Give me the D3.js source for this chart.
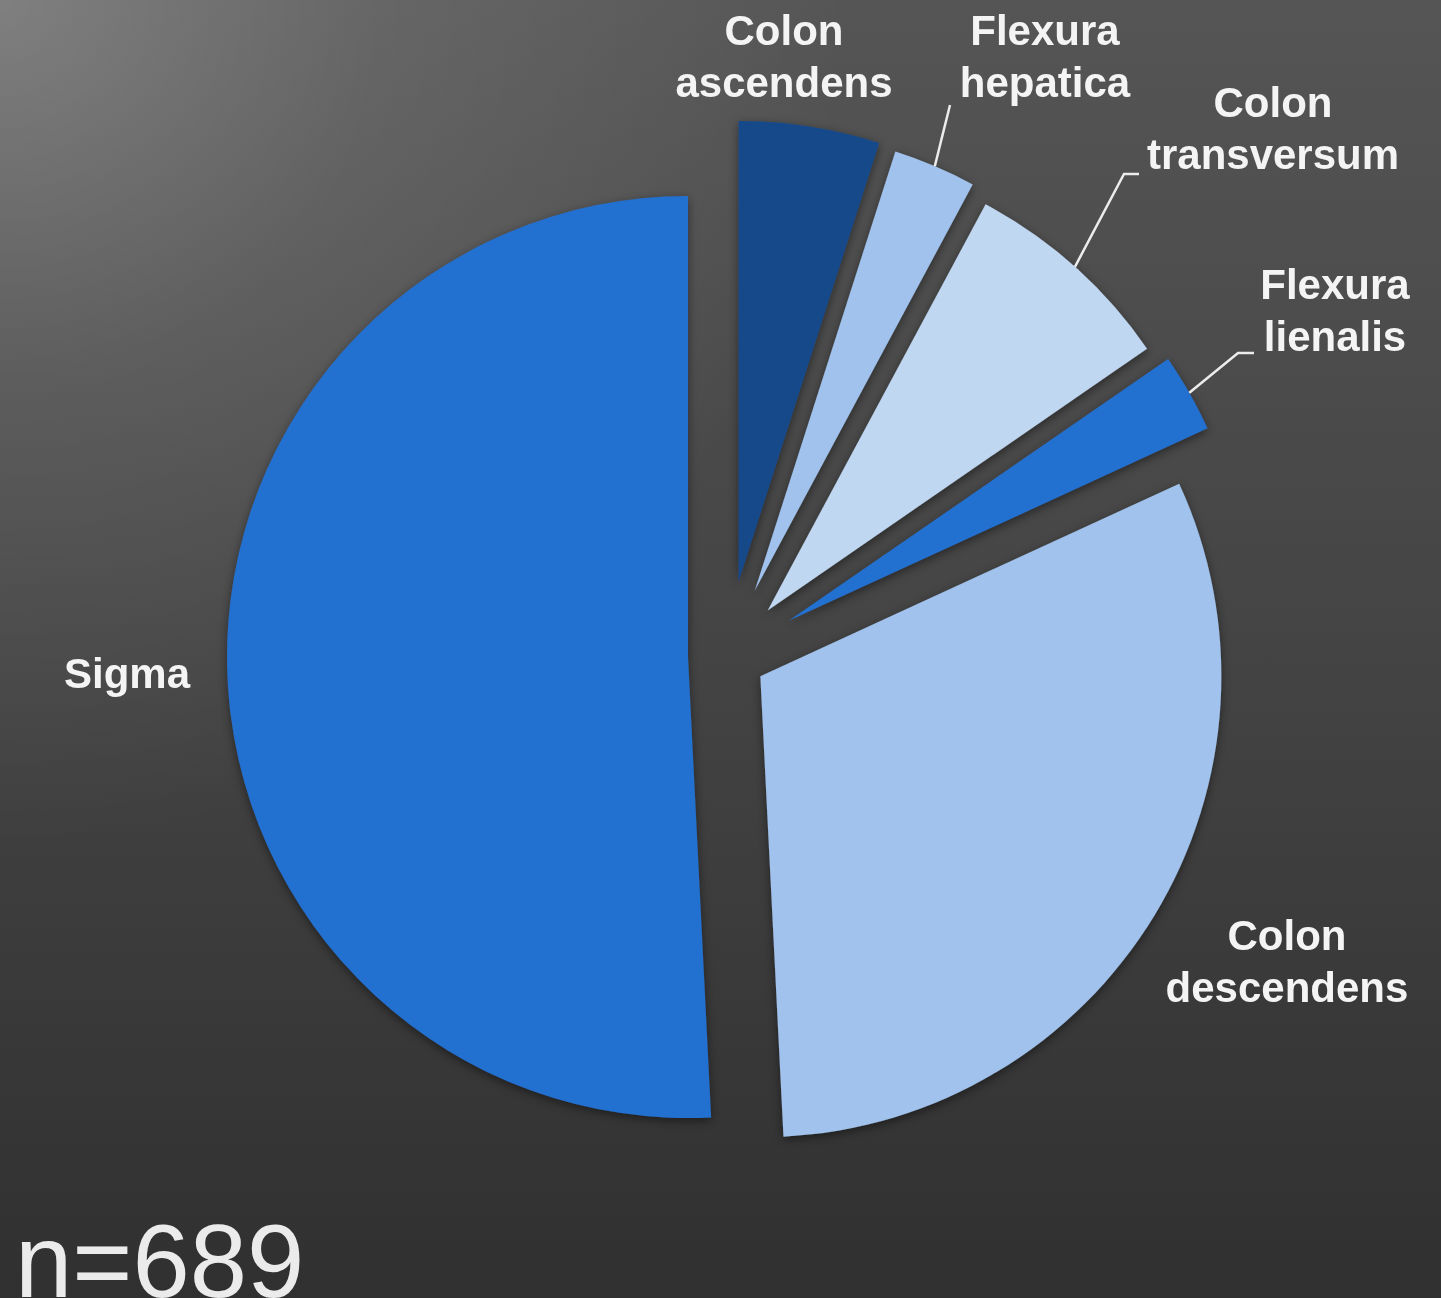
<!DOCTYPE html>
<html>
<head>
<meta charset="utf-8">
<script src="https://cdn.jsdelivr.net/npm/d3@7"></script>
<style>
  html, body { margin: 0; padding: 0; background: #333; }
  svg { display: block; }
</style>
</head>
<body>
<svg id="chart" width="1441" height="1298"></svg>
<script>
// Tumour location along the colon (counts, n = 689)
const categories = ["Colon ascendens", "Flexura hepatica", "Colon transversum",
                    "Flexura lienalis", "Colon descendens", "Sigma"];
const counts = [34, 20, 52, 19, 214, 350];
const totalLabel = "n=689";

// Styling / layout (kept apart from the data)
const colors = ["#194a8a", "#a0c2ec", "#c0d7f2", "#2470d0", "#a0c2ec", "#2470d0"];
const explode = [75, 71, 61, 71, 39, 39];           // offset of each wedge along its bisector
const labelAnchor = [[784, 45], [1045, 45], [1273, 117], [1335, 299], [1287, 950], [127, 688]];
// leader elbows (null = no leader line)
const leaderPts = [null, [[950, 105]], [[1124, 174], [1139, 174]], [[1238, 353], [1254, 353]], null, null];

const W = 1441, H = 1298;
const cx = 727, cy = 656, R = 461;
const lineH = 52;

const svg = d3.select("#chart");
const defs = svg.append("defs");

// background: vertical fade plus a soft highlight in the upper-left corner
const lin = defs.append("linearGradient").attr("id", "bgLin")
  .attr("x1", 0).attr("y1", 0).attr("x2", 0).attr("y2", 1);
lin.append("stop").attr("offset", 0).attr("stop-color", "#555555");
lin.append("stop").attr("offset", 0.5).attr("stop-color", "#444444");
lin.append("stop").attr("offset", 1).attr("stop-color", "#303030");

const rad = defs.append("radialGradient").attr("id", "bgGlow")
  .attr("gradientUnits", "userSpaceOnUse")
  .attr("cx", 0).attr("cy", 0).attr("r", 850);
rad.append("stop").attr("offset", 0).attr("stop-color", "#fff").attr("stop-opacity", 0.25);
rad.append("stop").attr("offset", 0.45).attr("stop-color", "#fff").attr("stop-opacity", 0.1);
rad.append("stop").attr("offset", 1).attr("stop-color", "#fff").attr("stop-opacity", 0);

const shadow = defs.append("filter").attr("id", "shadow")
  .attr("x", "-20%").attr("y", "-20%").attr("width", "140%").attr("height", "140%");
shadow.append("feDropShadow").attr("dx", 0).attr("dy", 3)
  .attr("stdDeviation", 5).attr("flood-color", "#000").attr("flood-opacity", 0.45);

svg.append("rect").attr("width", W).attr("height", H).attr("fill", "url(#bgLin)");
svg.append("rect").attr("width", W).attr("height", H).attr("fill", "url(#bgGlow)");

// pie starting at 12 o'clock, clockwise, original order
const pie = d3.pie().sort(null).value(d => d)(counts);
const arc = d3.arc().innerRadius(0).outerRadius(R);

const apex = (d, i) => {
  const mid = (d.startAngle + d.endAngle) / 2;
  return [cx + explode[i] * Math.sin(mid), cy - explode[i] * Math.cos(mid)];
};

svg.append("g").attr("filter", "url(#shadow)")
  .selectAll("path").data(pie).join("path")
  .attr("transform", (d, i) => `translate(${apex(d, i)})`)
  .attr("d", arc)
  .attr("fill", (d, i) => colors[i]);

// leader lines from the outer arc midpoint to the label
const line = d3.line();
svg.append("g").selectAll("path")
  .data(pie.map((d, i) => ({ d, i })).filter(o => leaderPts[o.i]))
  .join("path")
  .attr("d", o => {
    const [ax, ay] = apex(o.d, o.i);
    const mid = (o.d.startAngle + o.d.endAngle) / 2;
    const start = [ax + R * Math.sin(mid), ay - R * Math.cos(mid)];
    return line([start, ...leaderPts[o.i]]);
  })
  .attr("fill", "none")
  .attr("stroke", "#ececec")
  .attr("stroke-width", 2.5);

// category labels
const labels = svg.append("g")
  .attr("font-family", "'Liberation Sans', Arial, Helvetica, sans-serif")
  .attr("font-weight", "bold")
  .attr("font-size", 42)
  .attr("fill", "#f4f4f4")
  .attr("text-anchor", "middle");

labels.selectAll("text").data(categories).join("text")
  .attr("x", (d, i) => labelAnchor[i][0])
  .attr("y", (d, i) => labelAnchor[i][1])
  .each(function (d, i) {
    const words = d.split(" ");
    d3.select(this).selectAll("tspan").data(words).join("tspan")
      .attr("x", labelAnchor[i][0])
      .attr("dy", (w, k) => k === 0 ? 0 : lineH)
      .text(w => w);
  });

// sample size
svg.append("text")
  .attr("x", 15).attr("y", 1297)
  .attr("font-family", "'Liberation Sans', Arial, Helvetica, sans-serif")
  .attr("font-size", 103)
  .attr("fill", "#ebebeb")
  .text(totalLabel);
</script>
</body>
</html>
